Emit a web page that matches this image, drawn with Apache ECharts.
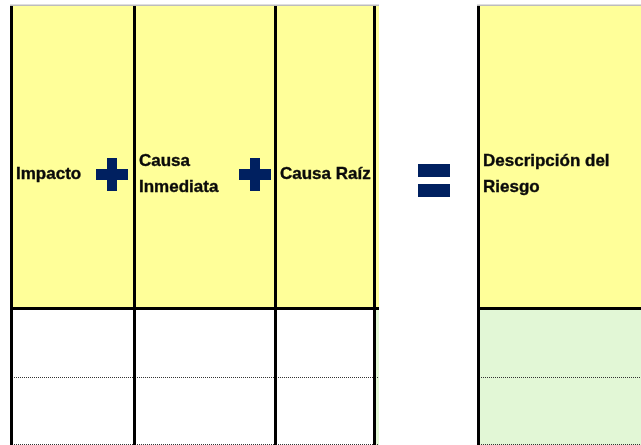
<!DOCTYPE html>
<html><head><meta charset="utf-8">
<script src="https://cdn.jsdelivr.net/npm/echarts@6/dist/echarts.min.js"></script>
<style>html,body{margin:0;padding:0;background:#fff}#c{width:641px;height:445px}</style>
</head><body><div id="c"></div>
<script>
// ---- data ----
const headers = ['Impacto', 'Causa\nInmediata', 'Causa Raíz', '', 'Descripción del\nRiesgo'];
const operators = ['+', '+', '='];
const bodyRows = ['', ''];

// ---- layout / style (kept separate) ----
const colLeft  = [10, 133, 274, 373, 477];
const colRight = [133, 274, 373, 379, 645];
const bodyFill = ['#ffffff', '#ffffff', '#ffffff', '#e2f7d6', '#e2f7d6'];
const opCenterX = [112, 255, 434];
const yTop = 6, yHeadBottom = 308, yBottom = 445, rowH = 67;
const yellow = '#ffff99', navy = '#002060';

const chart = echarts.init(document.getElementById('c'), null, {renderer: 'canvas'});

function renderColumn(params, api) {
  const i = api.value(0);
  const L = colLeft[i], R = colRight[i];
  const p = (x, y) => api.coord([x, y]);
  const rect = (x0, y0, x1, y1, fill) => {
    const a = p(x0, y0), b = p(x1, y1);
    return {type: 'rect', shape: {x: a[0], y: a[1], width: b[0] - a[0], height: b[1] - a[1]}, style: {fill: fill}};
  };
  const children = [];
  children.push(rect(L, yTop, R, yHeadBottom, yellow));
  children.push(rect(L, yHeadBottom, R, yBottom, bodyFill[i]));
  children.push(rect(L, yTop - 1.5, R, yTop, '#bdbdbd'));
  for (let r = 0; r < bodyRows.length; r++) {
    const yy = yHeadBottom + 2 + rowH * (r + 1);
    const a = p(L, yy + 0.5), b = p(R, yy + 0.5);
    children.push({type: 'line', shape: {x1: a[0], y1: a[1], x2: b[0], y2: b[1]},
      style: {stroke: '#333', lineWidth: 1, lineDash: [1, 1]}});
  }
  children.push(rect(L, yHeadBottom - 1, R, yHeadBottom + 2, '#000'));
  children.push(rect(L, yTop, L + 3, yBottom, '#000'));
  if (headers[i]) {
    const t = p(L + 6, 174);
    children.push({type: 'text', x: t[0], y: t[1],
      style: {text: headers[i], fill: '#0a0a0a', stroke: '#0a0a0a', lineWidth: 0.35,
        font: 'bold 17px "Liberation Sans", Arial, sans-serif',
        lineHeight: 26, align: 'left', verticalAlign: 'middle'}});
  }
  return {type: 'group', children: children};
}

function renderOperator(params, api) {
  const k = api.value(0);
  const c = api.coord([opCenterX[k], 174.5]);
  const cx = c[0], cy = c[1];
  const ch = [];
  if (operators[k] === '+') {
    ch.push({type: 'rect', shape: {x: cx - 16, y: cy - 5.5, width: 32, height: 11}, style: {fill: navy}});
    ch.push({type: 'rect', shape: {x: cx - 5, y: cy - 16.5, width: 10, height: 33}, style: {fill: navy}});
  } else {
    ch.push({type: 'rect', shape: {x: cx - 16, y: cy - 10.5, width: 32, height: 13}, style: {fill: navy}});
    ch.push({type: 'rect', shape: {x: cx - 16, y: cy + 9.5, width: 32, height: 13}, style: {fill: navy}});
  }
  return {type: 'group', children: ch};
}

chart.setOption({
  animation: false,
  backgroundColor: '#ffffff',
  grid: {left: 0, right: 0, top: 0, bottom: 0},
  xAxis: {type: 'value', min: 0, max: 641, show: false},
  yAxis: {type: 'value', min: 0, max: 445, inverse: true, show: false},
  series: [
    {type: 'custom', renderItem: renderColumn, clip: true,
     data: headers.map((h, i) => [i])},
    {type: 'custom', renderItem: renderOperator, clip: true,
     data: operators.map((o, k) => [k])}
  ]
});
</script></body></html>
